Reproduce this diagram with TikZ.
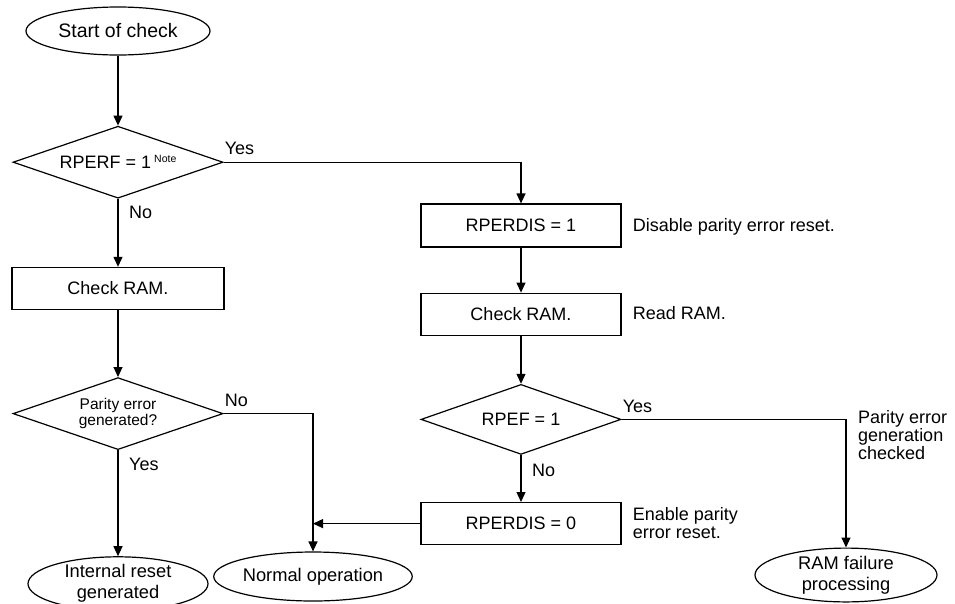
\documentclass[tikz,border=0pt]{standalone}
\usepackage{fontspec}
\setmainfont{Liberation Sans}
\usetikzlibrary{arrows.meta,positioning,shapes.geometric}

\begin{document}
\begin{tikzpicture}[
  x=1pt,y=-1pt,
  every node/.style={align=center,inner sep=0pt},
  term/.style={draw,ellipse,line width=1.2pt,minimum width=182pt,minimum height=49pt,font=\fontsize{18.3}{21}\selectfont},
  proc/.style={draw,rectangle,line width=1.2pt,minimum width=200pt,minimum height=42pt,font=\fontsize{18}{18}\selectfont},
  dec/.style={draw,diamond,aspect=2.9,line width=1.2pt,minimum width=210pt,minimum height=72pt,font=\fontsize{18}{18}\selectfont},
  lbl/.style={font=\fontsize{18}{18}\selectfont,anchor=base west},
  side/.style={font=\fontsize{18}{18}\selectfont,align=left,anchor=base west},
  arrow/.style={-{Triangle[length=10pt,width=9pt]},line width=1.2pt}
]
\useasboundingbox (0,0) rectangle (955,603);
\node[term,minimum width=184pt,minimum height=48pt,font=\fontsize{19.5}{20}\selectfont] (start) at (118,31) {Start of check};
\node[dec,below=70pt of start] (rperf) {RPERF = 1\,\raisebox{6pt}{\fontsize{10.5}{10.5}\selectfont Note}};
\node[proc,below=68pt of rperf,minimum width=212pt] (chkl) {Check RAM.};
\node[dec,below=67pt of chkl,font=\fontsize{15.5}{16}\selectfont] (perr) {Parity error\\generated?};
\node[term,below=106pt of perr,minimum width=180pt] (reset) {Internal reset\\generated};
\node[term] (normal) at (313,576.5) {Normal operation};
\node[proc,minimum height=43pt] (dis) at (521,225.5) {RPERDIS = 1};
\node[proc,below=45pt of dis] (chkr) {Check RAM.};
\node[dec,below=48pt of chkr,minimum width=200pt,minimum height=70pt] (rpef) {RPEF = 1};
\node[proc,below=47pt of rpef] (en) {RPERDIS = 0};
\node[term,minimum height=50pt] (fail) at (846,575) {RAM failure\\processing};
\coordinate (bend) at (rpef.east -| fail.north);
\node[lbl] (yes1) at ([xshift=1pt,yshift=8pt]rperf.east) {Yes};
\node[lbl] (no1) at ([xshift=11pt,yshift=-20pt]rperf.south) {No};
\node[lbl] (no2) at ([xshift=1pt,yshift=7pt]perr.east) {No};
\node[lbl] (yes2) at ([xshift=11pt,yshift=-20pt]perr.south) {Yes};
\node[lbl] (yes3) at ([xshift=1pt,yshift=7pt]rpef.east) {Yes};
\node[lbl] (no3) at ([xshift=11pt,yshift=-21pt]rpef.south) {No};
\node[side] (disnote) at ([xshift=11pt,yshift=-5.5pt]dis.east) {Disable parity error reset.};
\node[side] (readnote) at ([xshift=11pt,yshift=-5pt]chkr.east) {Read RAM.};
\node[side,anchor=north west] (ennote) at ([xshift=11pt,yshift=-5pt]en.north east) {Enable parity\\error reset.};
\node[side,anchor=north west] (failnote) at ([xshift=12pt,yshift=9pt]bend) {Parity error\\generation\\checked};
\draw[arrow] (start)--(rperf);
\draw[arrow] (rperf)--(chkl);
\draw[arrow] (chkl)--(perr);
\draw[arrow] (perr)--(reset);
\draw[arrow] (perr.east) -| (normal.north);
\draw[arrow] (rperf.east) -| (dis.north);
\draw[arrow] (dis)--(chkr);
\draw[arrow] (chkr)--(rpef);
\draw[arrow] (rpef)--(en);
\draw[arrow] (rpef.east) -- (bend) -- (fail.north);
\draw[arrow] (en.west) -- (en.west -| normal.north);
\end{tikzpicture}
\end{document}
